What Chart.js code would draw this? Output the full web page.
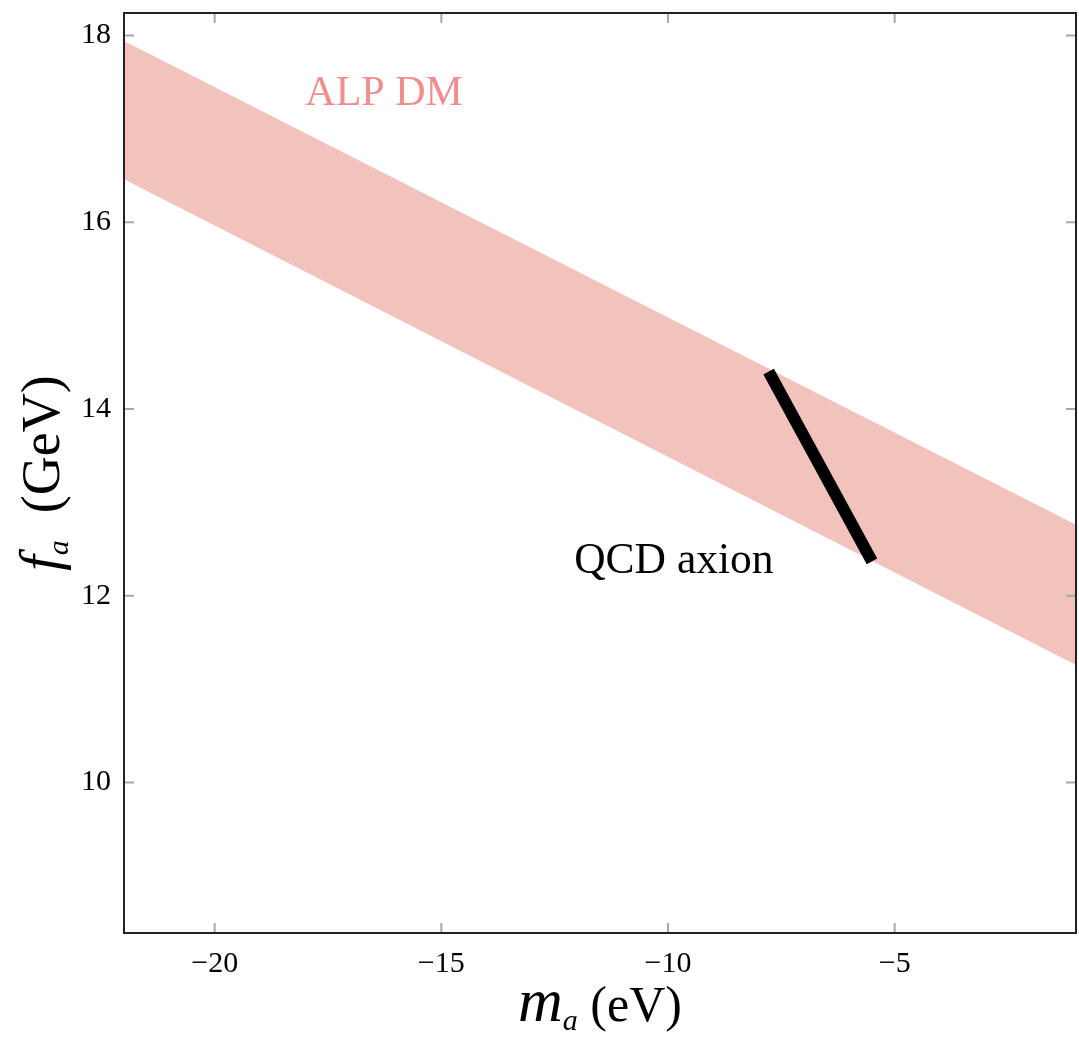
<!DOCTYPE html>
<html>
<head>
<meta charset="utf-8">
<script src="https://cdn.jsdelivr.net/npm/chart.js@4"></script>
<style>
  html, body { margin: 0; padding: 0; background: #fff; }
  #wrap { width: 1079px; height: 1056px; }
</style>
</head>
<body>
<div id="wrap"><canvas id="chart" width="1079" height="1056"></canvas></div>
<script>
'use strict';

// Axis ranges (log10 m_a in eV, log10 f_a in GeV).
const xRange = [-22, -1];
const yRange = [8.39, 18.24];
const xTicks = [-20, -15, -10, -5];
const yTicks = [10, 12, 14, 16, 18];

// ALP DM band: upper and lower edges.
const bandX = [-22, -1];
const bandUpper = [17.94, 12.76];
const bandLower = [16.46, 11.26];

// QCD axion segment.
const qcdX = [-7.78, -5.50];
const qcdY = [14.40, 12.37];

// Text labels inside the plot.
const labelText = ['ALP DM', 'QCD axion'];

const SERIF = '"Liberation Serif", "DejaVu Serif", serif';

// where and how the labels go (data coordinates)
const labelStyle = [
    { x: -18.0, y: 17.26, color: '#ef8e8e', size: 42 },
    { x: -12.07, y: 12.24, color: '#000', size: 43.5 },
];

function toPoints(xs, ys) {
    return xs.map((x, i) => ({ x: x, y: ys[i] }));
}

// Frame, inward ticks on all four sides, text labels and axis titles.
const decorations = {
    id: 'decorations',
    afterDraw(chart) {
        const ctx = chart.ctx;
        const area = chart.chartArea;
        const xs = chart.scales.x;
        const ys = chart.scales.y;
        ctx.save();

        // tick marks, pointing in
        ctx.strokeStyle = '#a8a8a8';
        ctx.lineWidth = 2;
        const tl = 10;
        ctx.beginPath();
        for (let v of xTicks) {
            let px = xs.getPixelForValue(v);
            ctx.moveTo(px, area.bottom); ctx.lineTo(px, area.bottom - tl);
            ctx.moveTo(px, area.top); ctx.lineTo(px, area.top + tl);
        }
        for (let v of yTicks) {
            let py = ys.getPixelForValue(v);
            ctx.moveTo(area.left, py); ctx.lineTo(area.left + tl, py);
            ctx.moveTo(area.right, py); ctx.lineTo(area.right - tl, py);
        }
        ctx.stroke();

        // frame
        ctx.strokeStyle = '#222';
        ctx.lineWidth = 2;
        ctx.strokeRect(area.left, area.top, area.right - area.left, area.bottom - area.top);

        // labels in the plot
        ctx.textBaseline = 'alphabetic';
        ctx.textAlign = 'left';
        labelText.forEach((t, i) => {
            const st = labelStyle[i];
            ctx.font = st.size + 'px ' + SERIF;
            ctx.fillStyle = st.color;
            ctx.fillText(t, xs.getPixelForValue(st.x), ys.getPixelForValue(st.y));
        });

        // axis titles: italic symbol, subscript a, unit
        function title(sym, unit, cx, cy, rot, symSize, unitSize) {
            ctx.save();
            ctx.translate(cx, cy);
            ctx.rotate(rot);
            ctx.fillStyle = '#000';
            const fSym = 'italic ' + symSize + 'px ' + SERIF;
            const fSub = 'italic 30px ' + SERIF;
            const fUnit = unitSize + 'px ' + SERIF;
            ctx.font = fSym; const w1 = ctx.measureText(sym).width;
            ctx.font = fSub; const w2 = ctx.measureText('a').width;
            ctx.font = fUnit; const w3 = ctx.measureText(unit).width;
            let x = -(w1 + w2 + w3) / 2;
            ctx.textAlign = 'left';
            ctx.textBaseline = 'alphabetic';
            ctx.font = fSym; ctx.fillText(sym, x, 0); x += w1;
            ctx.font = fSub; ctx.fillText('a', x, 9); x += w2;
            ctx.font = fUnit; ctx.fillText(unit, x, 0);
            ctx.restore();
        }
        const midX = (area.left + area.right) / 2;
        const midY = (area.top + area.bottom) / 2;
        title('m', ' (eV)', midX, 1021, 0, 62, 50);
        title('f', '  (GeV)', 59, midY, -Math.PI / 2, 56, 54);

        ctx.restore();
    }
};

const ctx = document.getElementById('chart').getContext('2d');
new Chart(ctx, {
    type: 'line',
    data: {
        datasets: [
            {
                label: 'ALP DM upper',
                data: toPoints(bandX, bandUpper),
                borderWidth: 0,
                pointRadius: 0,
                fill: '+1',
                backgroundColor: '#f2c2bd',
                borderColor: 'rgba(0,0,0,0)',
            },
            {
                label: 'ALP DM lower',
                data: toPoints(bandX, bandLower),
                borderWidth: 0,
                pointRadius: 0,
                fill: false,
                borderColor: 'rgba(0,0,0,0)',
            },
            {
                label: 'QCD axion',
                data: toPoints(qcdX, qcdY),
                borderWidth: 12,
                borderCapStyle: 'butt',
                pointRadius: 0,
                fill: false,
                borderColor: '#000',
            },
        ],
    },
    options: {
        responsive: false,
        animation: false,
        events: [],
        layout: { padding: { top: 13, right: 3, bottom: 0, left: 0 } },
        plugins: {
            legend: { display: false },
            tooltip: { enabled: false },
            filler: { drawTime: 'beforeDatasetsDraw' },
        },
        scales: {
            x: {
                type: 'linear',
                min: xRange[0],
                max: xRange[1],
                afterBuildTicks: (s) => { s.ticks = xTicks.map(v => ({ value: v })); },
                afterFit: (s) => { s.height = 123; s.paddingLeft = 0; s.paddingRight = 0; },
                grid: { drawOnChartArea: false, drawTicks: false },
                border: { display: false },
                ticks: {
                    padding: 13,
                    color: '#000',
                    font: { family: SERIF, size: 30 },
                    maxRotation: 0,
                    callback: (v) => String(v).replace('-', '\u2212'),
                },
            },
            y: {
                type: 'linear',
                min: yRange[0],
                max: yRange[1],
                afterBuildTicks: (s) => { s.ticks = yTicks.map(v => ({ value: v })); },
                afterFit: (s) => { s.width = 124; s.paddingTop = 0; s.paddingBottom = 0; },
                grid: { drawOnChartArea: false, drawTicks: false },
                border: { display: false },
                ticks: {
                    padding: 13,
                    color: '#000',
                    font: { family: SERIF, size: 30 },
                },
            },
        },
    },
    plugins: [decorations],
});
</script>
</body>
</html>
